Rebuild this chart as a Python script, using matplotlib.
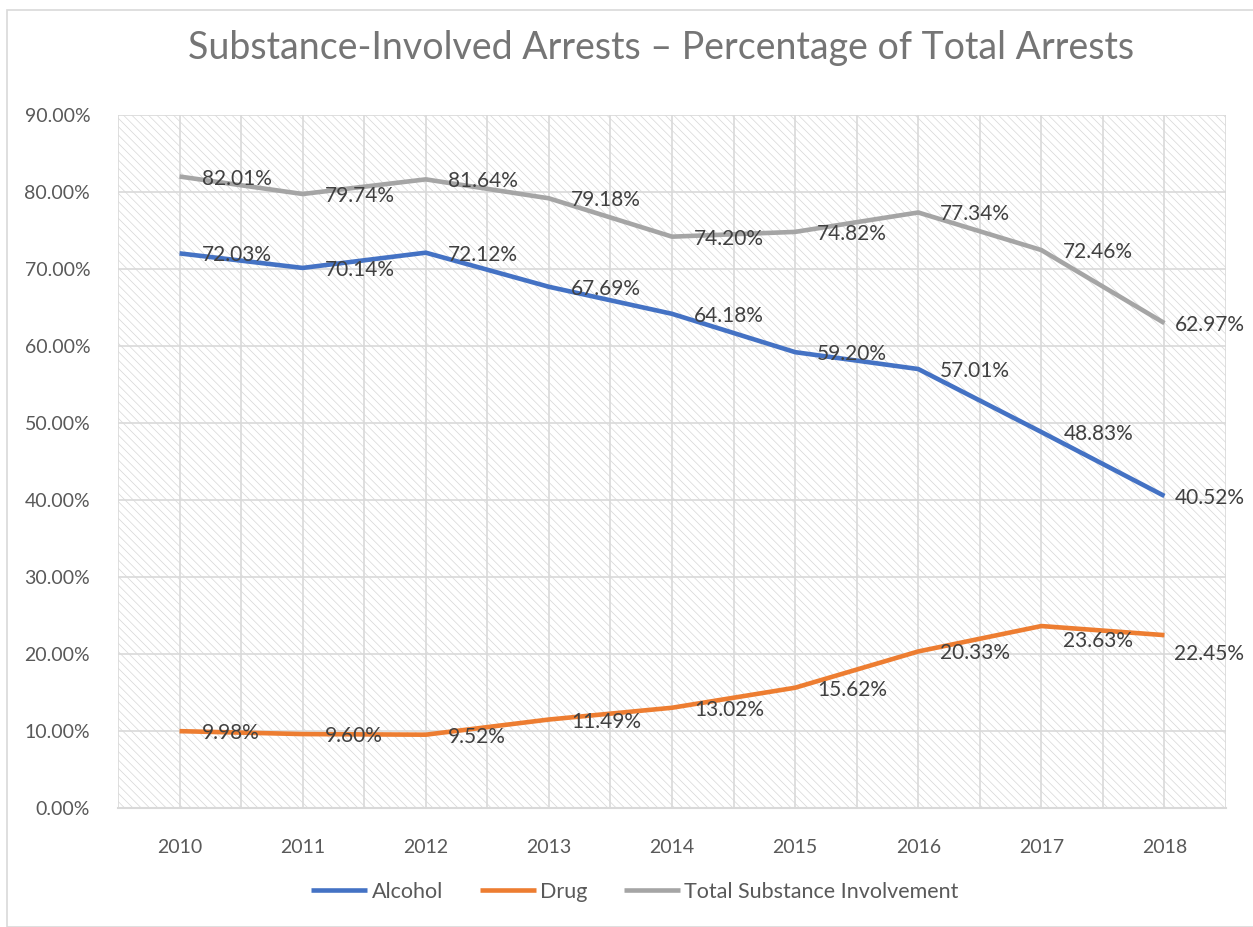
import numpy as np
import matplotlib
matplotlib.use('Agg')
from matplotlib import pyplot as plt
from matplotlib.patches import Rectangle

#----------------------------Data----------------------------------------------#
years = ['2010', '2011', '2012', '2013', '2014', '2015', '2016', '2017', '2018']
alcohol = [72.03, 70.14, 72.12, 67.69, 64.18, 59.20, 57.01, 48.83, 40.52]
drug = [9.98, 9.60, 9.52, 11.49, 13.02, 15.62, 20.33, 23.63, 22.45]
total = [82.01, 79.74, 81.64, 79.18, 74.20, 74.82, 77.34, 72.46, 62.97]
series_names = ['Alcohol', 'Drug', 'Total Substance Involvement']
y_ticks = [0, 10, 20, 30, 40, 50, 60, 70, 80, 90]
title = 'Substance-Involved Arrests \u2013 Percentage of Total Arrests'

#----------------------------Style---------------------------------------------#
blue = '#4472C4'
orange = '#ED7D31'
gray = '#A5A5A5'
grid_col = '#D9D9D9'
text_col = '#595959'
label_col = '#404040'
plt.rcParams['font.family'] = ['Lato', 'DejaVu Sans']
plt.rcParams['hatch.linewidth'] = 0.5

# label offsets in pixels (dx to left edge, dy), one per point
dx_lab = [22, 22, 22, 22, 22, 22, 22, 22, 10]
dy_lab = [-2, -2, -2, -2, -2, -2, -2, -2, -2]
dy_drug = [-2, -2, -2, -2, -2, -2, -2, -15, -19]

#----------------------------Plotting------------------------------------------#
fig = plt.figure(figsize=(12.53, 9.27), dpi=100)
fig.patches.append(Rectangle((7 / 1253, 0), 1, 1 - 10 / 927, transform=fig.transFigure,
                             facecolor='none', edgecolor=grid_col, lw=1.2))
ax = fig.add_axes([118 / 1253, 1 - 808 / 927, 1108 / 1253, 693 / 927])
ax.set_facecolor('white')
ax.add_patch(Rectangle((0, 0), 1, 1, transform=ax.transAxes, facecolor='white',
                       edgecolor='#D6D6D6', hatch='\\\\\\\\', lw=0, zorder=0))

x = np.arange(len(years))
ax.set_xlim(-0.5, len(years) - 0.5)
ax.set_ylim(0, 90)

ax.set_yticks(y_ticks)
ax.set_yticklabels(['%.2f%%' % v for v in y_ticks])
ax.set_xticks(x)
ax.set_xticklabels(years)
ax.set_xticks(np.arange(-0.5, len(years), 1.0), minor=True)
ax.tick_params(axis='both', which='both', length=0, labelsize=14, colors=text_col)
ax.tick_params(axis='x', pad=22)
ax.tick_params(axis='y', pad=20)
ax.set_axisbelow(True)
ax.grid(True, which='both', color=grid_col, lw=1.2)
ax.grid(False, axis='y', which='minor')
for s in ['left', 'right', 'top']:
    ax.spines[s].set_visible(False)
ax.spines['bottom'].set_color(grid_col)
ax.spines['bottom'].set_linewidth(1.5)

lines = []
for vals, col, name, dys in [(alcohol, blue, series_names[0], dy_lab),
                             (drug, orange, series_names[1], dy_drug),
                             (total, gray, series_names[2], dy_lab)]:
    ln, = ax.plot(x, vals, color=col, lw=3.3, label=name, zorder=3,
                  solid_capstyle='butt', solid_joinstyle='round')
    lines.append(ln)
    for xi, v, dx, dy in zip(x, vals, dx_lab, dys):
        ax.annotate('%.2f%%' % v, (xi, v), xytext=(dx, dy), textcoords='offset pixels',
                    ha='left', va='center', fontsize=15, color=label_col, zorder=4)

fig.text(661 / 1253, 1 - 48 / 927, title, ha='center', va='center',
         fontsize=27, color='#757575')

fig.legend(handles=lines, loc='center', bbox_to_anchor=(635 / 1253, 1 - 892 / 927),
           ncol=3, frameon=False, fontsize=15.5, handlelength=2.6, handletextpad=0.2,
           columnspacing=1.7, labelcolor=text_col)

fig.savefig('out.png', dpi=100)
